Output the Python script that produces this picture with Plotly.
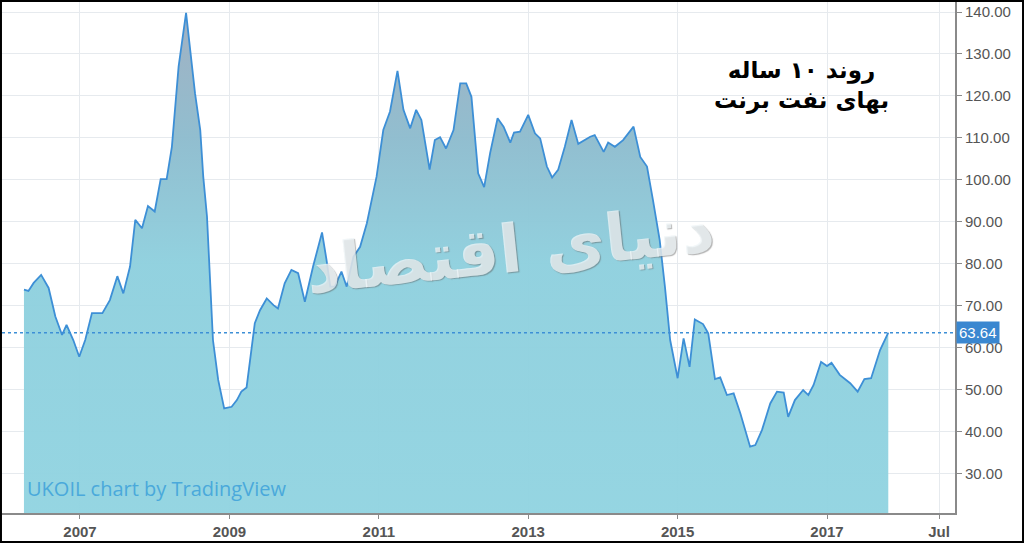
import plotly.graph_objects as go

# decimal years and Brent prices (USD)
years = [2006.25, 2006.31, 2006.38, 2006.48, 2006.58, 2006.67, 2006.76, 2006.82, 2006.91, 2006.99,
         2007.07, 2007.16, 2007.30, 2007.40, 2007.50, 2007.58, 2007.67, 2007.74, 2007.83, 2007.91,
         2008.00, 2008.08, 2008.16, 2008.23, 2008.32, 2008.42, 2008.54, 2008.61, 2008.65, 2008.70,
         2008.78, 2008.85, 2008.93, 2009.03, 2009.10, 2009.16, 2009.23, 2009.34, 2009.41, 2009.50,
         2009.59, 2009.65, 2009.74, 2009.83, 2009.92, 2010.01, 2010.12, 2010.24, 2010.30, 2010.35,
         2010.41, 2010.50, 2010.57, 2010.66, 2010.75, 2010.84, 2010.97, 2011.06, 2011.15, 2011.25,
         2011.33, 2011.42, 2011.50, 2011.57, 2011.68, 2011.75, 2011.82, 2011.90, 2012.00, 2012.09,
         2012.17, 2012.24, 2012.33, 2012.41, 2012.49, 2012.59, 2012.67, 2012.76, 2012.81, 2012.89,
         2013.00, 2013.09, 2013.16, 2013.25, 2013.32, 2013.40, 2013.49, 2013.58, 2013.67, 2013.83,
         2013.89, 2014.01, 2014.07, 2014.16, 2014.27, 2014.41, 2014.50, 2014.59, 2014.67, 2014.76,
         2014.83, 2014.90, 2015.00, 2015.08, 2015.16, 2015.23, 2015.34, 2015.41, 2015.50, 2015.57,
         2015.66, 2015.75, 2015.84, 2015.97, 2016.04, 2016.13, 2016.24, 2016.33, 2016.42, 2016.48,
         2016.57, 2016.68, 2016.75, 2016.82, 2016.92, 2017.00, 2017.06, 2017.17, 2017.31, 2017.41,
         2017.50, 2017.59, 2017.71, 2017.82]
prices = [73.9, 73.6, 75.5, 77.4, 74.3, 67.5, 63.1, 65.5, 61.9, 57.9,
          61.9, 68.3, 68.3, 71.4, 77.1, 73.0, 79.4, 90.5, 88.5, 93.8,
          92.5, 100.2, 100.2, 107.9, 127.0, 139.8, 120.6, 111.9, 100.8, 91.3,
          61.9, 52.4, 45.6, 46.0, 47.6, 49.6, 50.6, 65.9, 69.0, 71.8,
          70.2, 69.4, 75.4, 78.6, 77.8, 71.0, 79.4, 87.5, 81.0, 74.6,
          74.6, 78.2, 74.6, 81.7, 84.1, 89.7, 100.8, 111.9, 116.3, 126.0,
          116.7, 112.3, 116.7, 114.3, 102.5, 109.5, 110.2, 107.5, 111.9, 123.0,
          123.0, 119.8, 101.6, 98.3, 106.4, 114.7, 112.7, 108.9, 111.3, 111.5,
          115.5, 111.1, 109.9, 103.2, 100.6, 102.4, 107.9, 114.3, 108.6, 110.3,
          110.7, 106.7, 108.9, 107.9, 109.5, 112.7, 105.5, 103.2, 95.2, 85.7,
          74.6, 61.9, 52.8, 62.3, 55.5, 66.8, 65.7, 63.5, 52.6, 53.0,
          48.8, 49.2, 44.4, 36.5, 36.9, 40.5, 46.8, 49.6, 49.4, 43.6,
          47.6, 50.0, 48.8, 51.2, 56.7, 55.7, 56.5, 53.6, 51.6, 49.6,
          52.6, 52.8, 59.5, 63.64]
last_price = 63.64

x_tickvals = [2007, 2009, 2011, 2013, 2015, 2017, 2018.5]
x_ticktext = ["2007", "2009", "2011", "2013", "2015", "2017", "Jul"]
y_tickvals = [30, 40, 50, 60, 70, 80, 90, 100, 110, 120, 130, 140]

title_lines = ["روند ۱۰ ساله", "بهای نفت برنت"]
watermark = "دنیای اقتصاد"
credit = "UKOIL chart by TradingView"

fig = go.Figure()
fig.add_trace(go.Scatter(
    x=years, y=prices, mode="lines",
    line=dict(color="#3d8fd6", width=1.8),
    fill="tozeroy",
    fillgradient=dict(type="vertical", start=20, stop=140,
                      colorscale=[[0, "rgba(146,212,225,0.97)"], [0.5, "rgba(143,208,222,0.97)"],
                                  [0.75, "rgba(142,188,206,0.97)"], [1, "rgba(158,174,192,0.97)"]]),
    hoverinfo="skip", showlegend=False,
))

fig.add_shape(type="line", xref="paper", x0=0, x1=1, yref="y", y0=last_price, y1=last_price,
              line=dict(color="#3d8fd6", width=1.5, dash="dot"))

fig.add_annotation(xref="paper", x=1.0, yref="y", y=last_price, text=f"{last_price:.2f}",
                   showarrow=False, xanchor="left", yanchor="middle", xshift=1,
                   bgcolor="#3a87d0", borderpad=2,
                   font=dict(family="Liberation Sans, Arial", size=15, color="white"))

fig.add_annotation(xref="x", x=2016.66, yref="y", y=122.5, text="<br>".join(title_lines),
                   showarrow=False, align="center",
                   font=dict(family="DejaVu Sans", size=23, color="black", weight="bold"))

fig.add_annotation(xref="x", x=2012.76, yref="y", y=83.5, text=watermark, showarrow=False,
                   textangle=-6,
                   font=dict(family="DejaVu Sans", size=66, color="rgba(240,246,248,0.78)",
                             weight="bold", shadow="1px 1px 1px rgba(90,90,90,0.6)"))

fig.add_annotation(xref="paper", x=0.024, yref="y", y=26.5, text=credit, showarrow=False,
                   xanchor="left", font=dict(family="Open Sans", size=20, color="#4aa9db"))

# outer black frame
fig.add_shape(type="rect", xref="paper", yref="paper", x0=-0.0016, x1=1.0719, y0=-0.0577, y1=1.0029,
              line=dict(color="black", width=3), fillcolor="rgba(0,0,0,0)")

fig.update_xaxes(range=[2005.956, 2018.713], tickvals=x_tickvals, ticktext=x_ticktext,
                 showgrid=True, gridcolor="#e6eaee", gridwidth=1, zeroline=False,
                 showline=True, linecolor="#8a8a8a", linewidth=2, ticks="outside", ticklen=4,
                 tickcolor="#8a8a8a",
                 tickfont=dict(family="Liberation Sans, Arial", size=15, color="#555555", weight="bold"))
fig.update_yaxes(range=[20.71, 142.38], side="right", tickvals=y_tickvals, tickformat=".2f",
                 showgrid=True, gridcolor="#e6eaee", gridwidth=1, zeroline=False,
                 showline=True, linecolor="#8a8a8a", linewidth=2, ticks="outside", ticklen=5,
                 tickcolor="#8a8a8a",
                 tickfont=dict(family="Liberation Sans, Arial", size=15, color="#555555"))

fig.update_layout(width=1024, height=543, margin=dict(l=2, r=69, t=2, b=30),
                  paper_bgcolor="white", plot_bgcolor="white")

fig.write_html("out.html", config={"displayModeBar": False},
               post_script="document.body.style.margin='0px';document.body.style.overflow='hidden';")
